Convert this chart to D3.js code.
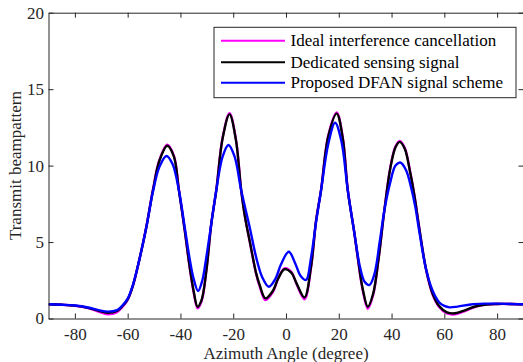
<!DOCTYPE html>
<html>
<head>
<meta charset="utf-8">
<script src="https://cdn.jsdelivr.net/npm/d3@7"></script>
<style>
  html, body { margin: 0; padding: 0; background: #fff; }
  svg { display: block; }
  text { font-family: "Liberation Serif", "Times New Roman", serif; }
</style>
</head>
<body>
<svg id="chart" width="523" height="362"></svg>
<script>
// Beampattern samples (azimuth in degrees, gain in linear units)
const dedicatedAngles = [-90,-85,-80,-75,-71,-67.5,-64,-62,-60,-58,-55.5,-53,-50.4,-48,-45,-42.5,-40.6,-38.4,-36.6,-35,-33.5,-32,-30.2,-28.3,-26.4,-24,-21.4,-19,-17,-15.5,-13.8,-11.3,-10,-7.8,-5,-3,-0.6,2,4,7,9.5,11.4,13.3,16,19.2,21.5,23.4,25.9,27.2,29,31,33,35,37.3,39.5,41.5,43.1,45,47,48.7,50.6,53.1,55.6,58.1,61,64,68,72,76,80,85,90];
const dedicatedGain   = [0.93,0.9,0.84,0.7,0.5,0.38,0.5,0.8,1.25,2.15,3.9,5.9,8.4,10.3,11.3,10.6,8.4,5.8,3.5,1.8,0.77,1.2,3.1,6.2,8.4,11.8,13.35,11.7,8.4,6.6,5.1,2.95,2.2,1.32,1.8,2.6,3.22,3.0,2.3,1.38,3.4,6.4,8.4,11.9,13.4,11.8,8.4,5.6,4.0,2.0,0.77,1.6,3.8,7.1,9.8,11.2,11.55,11.1,9.6,8.0,5.8,3.2,1.6,0.8,0.4,0.34,0.55,0.8,0.92,0.95,0.95,0.93];

const idealAngles = dedicatedAngles;
const idealGain   = [0.93,0.9,0.83,0.68,0.45,0.28,0.42,0.75,1.22,2.15,3.9,5.95,8.45,10.35,11.36,10.65,8.45,5.8,3.45,1.72,0.66,1.12,3.1,6.22,8.45,11.85,13.42,11.75,8.45,6.62,5.1,2.9,2.12,1.2,1.72,2.6,3.28,3.05,2.25,1.26,3.35,6.42,8.45,11.95,13.47,11.85,8.45,5.6,3.95,1.92,0.64,1.52,3.8,7.12,9.85,11.26,11.62,11.16,9.65,8.02,5.8,3.18,1.55,0.74,0.33,0.27,0.5,0.78,0.92,0.95,0.95,0.93];

const dfanAngles = [-90,-85,-80,-75,-71,-67.5,-64,-62,-60,-58,-55.5,-53,-50.4,-48,-45.3,-43,-40.6,-38.4,-36.6,-35,-33.3,-31.7,-30.2,-28.3,-26.4,-24,-21.8,-19.5,-17,-13.8,-11.3,-9,-6.5,-4,-2,1.06,3.5,5.5,7.6,9.5,11.4,13.3,16,18.6,21,23.4,25.9,28,29.8,31.6,33.5,35.5,37.3,39.5,41.5,43.3,45.5,47.5,49,50.6,53.1,55.6,58.1,60,62,65,70,75,80,85,90];
const dfanGain   = [0.93,0.9,0.85,0.72,0.55,0.45,0.55,0.85,1.3,2.2,3.9,5.9,8.3,9.9,10.63,10.1,8.4,6.0,4.0,2.6,1.8,2.5,4.0,6.2,8.4,10.6,11.35,10.6,8.4,6.0,4.0,2.7,2.08,2.6,3.5,4.37,3.6,2.8,2.52,4.0,6.3,8.4,11.4,12.8,11.6,8.4,5.6,3.4,2.4,2.19,2.9,5.0,7.1,8.9,10.0,10.2,9.7,8.5,7.3,5.6,3.2,1.8,1.05,0.82,0.73,0.78,0.92,0.97,0.97,0.95,0.93];

const xTicks = [-80,-60,-40,-20,0,20,40,60,80];
const yTicks = [0,5,10,15,20];

const series = [
  { name: "Ideal interference cancellation", color: "#ff00ff", angles: idealAngles, gain: idealGain },
  { name: "Dedicated sensing signal",        color: "#000000", angles: dedicatedAngles, gain: dedicatedGain },
  { name: "Proposed DFAN signal scheme",     color: "#0000ff", angles: dfanAngles, gain: dfanGain }
];

const svg = d3.select("#chart");
const plot = { left: 48.5, right: 523.5, top: 12.7, bottom: 318.5 };

const x = d3.scaleLinear().domain([-90, 90]).range([plot.left, plot.right]);
const y = d3.scaleLinear().domain([0, 20]).range([plot.bottom, plot.top]);

svg.append("defs").append("clipPath").attr("id", "plotClip")
  .append("rect")
  .attr("x", plot.left).attr("y", plot.top)
  .attr("width", plot.right - plot.left).attr("height", plot.bottom - plot.top);

// Curves
const line = d3.line().curve(d3.curveCatmullRom.alpha(0.5));
const curves = svg.append("g").attr("clip-path", "url(#plotClip)");
series.forEach(s => {
  const pts = s.angles.map((a, i) => [x(a), y(s.gain[i])]);
  curves.append("path")
    .attr("d", line(pts))
    .attr("fill", "none")
    .attr("stroke", s.color)
    .attr("stroke-width", 2.4)
    .attr("stroke-linejoin", "round");
});

// Axes with inward ticks on all four sides
const tickLen = 5;
const axisColor = "#262626";
const fontSize = "17px";
const fmt = d => String(d);

const bottomAxis = d3.axisBottom(x).tickValues(xTicks).tickSizeInner(-tickLen).tickSizeOuter(0).tickPadding(9).tickFormat(fmt);
const topAxis = d3.axisTop(x).tickValues(xTicks).tickSizeInner(-tickLen).tickSizeOuter(0).tickFormat("");
const leftAxis = d3.axisLeft(y).tickValues(yTicks).tickSizeInner(-tickLen).tickSizeOuter(0).tickPadding(4.5).tickFormat(fmt);
const rightAxis = d3.axisRight(y).tickValues(yTicks).tickSizeInner(-tickLen).tickSizeOuter(0).tickFormat("");

function styleAxis(g) {
  g.attr("font-family", null).attr("font-size", null);
  g.select(".domain").attr("stroke", axisColor).attr("stroke-width", 1);
  g.selectAll(".tick line").attr("stroke", axisColor).attr("stroke-width", 1);
  g.selectAll(".tick text").attr("font-size", fontSize).attr("fill", axisColor);
}

svg.append("g").attr("transform", `translate(0,${plot.bottom})`).call(bottomAxis).call(styleAxis);
svg.append("g").attr("transform", `translate(0,${plot.top})`).call(topAxis).call(styleAxis);
svg.append("g").attr("transform", `translate(${plot.left},0)`).call(leftAxis).call(styleAxis);
svg.append("g").attr("transform", `translate(${plot.right},0)`).call(rightAxis).call(styleAxis);

// Axis titles
svg.append("text")
  .attr("x", 286)
  .attr("y", 358.5)
  .attr("text-anchor", "middle")
  .attr("font-size", "17px")
  .attr("fill", axisColor)
  .text("Azimuth Angle (degree)");

svg.append("text")
  .attr("transform", `translate(21,${(plot.top + plot.bottom) / 2}) rotate(-90)`)
  .attr("text-anchor", "middle")
  .attr("font-size", "17px")
  .attr("fill", axisColor)
  .text("Transmit beampattern");

// Legend
const legend = svg.append("g");
const lg = { x: 214, y: 27.3, w: 302, h: 70.4 };
legend.append("rect")
  .attr("x", lg.x).attr("y", lg.y).attr("width", lg.w).attr("height", lg.h)
  .attr("fill", "#fff").attr("stroke", axisColor).attr("stroke-width", 1);
const rowY = [40.7, 62.3, 82.7];
series.forEach((s, i) => {
  legend.append("line")
    .attr("x1", 221).attr("x2", 285)
    .attr("y1", rowY[i]).attr("y2", rowY[i])
    .attr("stroke", s.color).attr("stroke-width", 2);
  legend.append("text")
    .attr("x", 290.5).attr("y", rowY[i])
    .attr("dy", "0.33em")
    .attr("font-size", "17px")
    .attr("fill", "#000")
    .text(s.name);
});
</script>
</body>
</html>
